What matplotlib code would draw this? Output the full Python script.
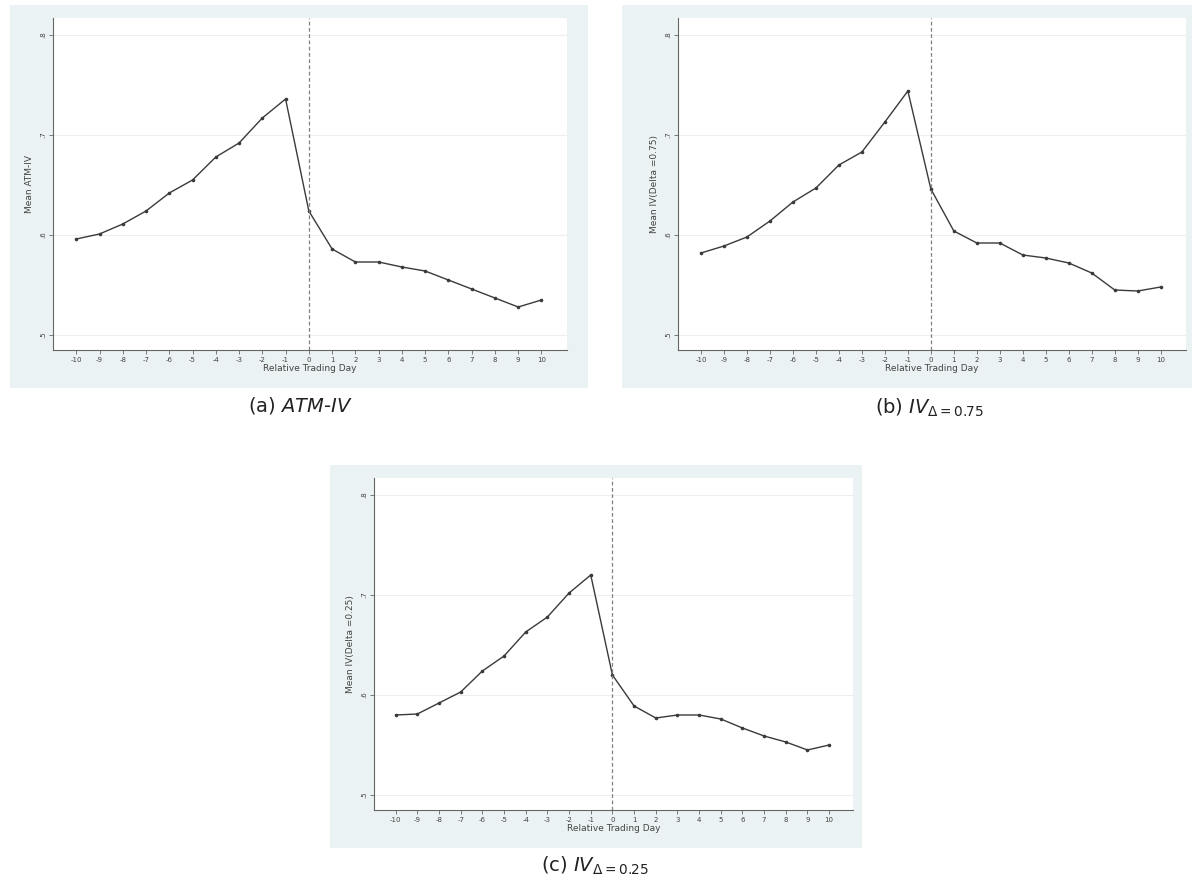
import matplotlib.pyplot as plt
from matplotlib.patches import Rectangle

# Données
days = list(range(-10, 11))
atm_iv = [0.596, 0.601, 0.611, 0.624, 0.642, 0.655, 0.678, 0.692, 0.717, 0.736,
          0.624, 0.586, 0.573, 0.573, 0.568, 0.564, 0.555, 0.546, 0.537, 0.528, 0.535]
iv_d075 = [0.582, 0.589, 0.598, 0.614, 0.633, 0.647, 0.670, 0.683, 0.713, 0.744,
           0.646, 0.604, 0.592, 0.592, 0.580, 0.577, 0.572, 0.562, 0.545, 0.544, 0.548]
iv_d025 = [0.580, 0.581, 0.592, 0.603, 0.624, 0.639, 0.663, 0.678, 0.702, 0.720,
           0.620, 0.589, 0.577, 0.580, 0.580, 0.576, 0.567, 0.559, 0.553, 0.545, 0.550]
y_ticks = [0.5, 0.6, 0.7, 0.8]
y_ticklabels = ['.5', '.6', '.7', '.8']

W, H = 1197, 888
bg = '#eaf2f3'

fig = plt.figure(figsize=(W / 100, H / 100), dpi=100)


def px_box(x0, y0, x1, y1):
    # convertit des pixels (origine en haut à gauche) en fractions de figure
    return [x0 / W, 1 - y1 / H, (x1 - x0) / W, (y1 - y0) / H]


def panel(bg_box, ax_box, data, ylabel, caption, cap_xy):
    x0, y0, x1, y1 = bg_box
    fig.patches.append(Rectangle((x0 / W, 1 - y1 / H), (x1 - x0) / W, (y1 - y0) / H,
                                 transform=fig.transFigure, facecolor=bg,
                                 edgecolor='none', zorder=-10))
    ax = fig.add_axes(px_box(*ax_box))
    ax.set_zorder(1)
    ax.set_facecolor('white')
    ax.plot(days, data, color='#3a3a3a', lw=1.0, marker='o', ms=2.6,
            markerfacecolor='#3a3a3a', markeredgewidth=0)
    ax.axvline(0, color='#808080', lw=0.9, ls=(0, (3, 2)))
    ax.set_xlim(-11, 11.1)
    ax.set_ylim(0.485, 0.817)
    ax.set_xticks(days)
    ax.set_xticklabels([str(d) for d in days], fontsize=5, color='#444444')
    ax.set_yticks(y_ticks)
    ax.set_yticklabels(y_ticklabels, fontsize=5, color='#444444', rotation=90, va='center')
    ax.tick_params(length=3, width=0.6, color='#666666', pad=2)
    ax.grid(axis='y', color='#eeeeee', lw=0.8)
    ax.set_axisbelow(True)
    for s in ['top', 'right']:
        ax.spines[s].set_visible(False)
    for s in ['left', 'bottom']:
        ax.spines[s].set_color('#666666')
        ax.spines[s].set_linewidth(0.8)
    ax.set_xlabel('Relative Trading Day', fontsize=6.5, color='#444444', labelpad=1)
    ax.set_ylabel(ylabel, fontsize=6.5, color='#444444', labelpad=4)
    fig.text(cap_xy[0] / W, 1 - cap_xy[1] / H, caption, fontsize=14,
             ha='center', va='center', color='#222222')
    return ax


panel((10, 5, 588, 388), (53, 18, 567, 350), atm_iv, 'Mean ATM-IV',
      r'(a) $\mathit{ATM}$-$\mathit{IV}$', (300, 405))
panel((622, 5, 1192, 388), (678, 18, 1186, 350), iv_d075, 'Mean IV(Delta =0.75)',
      r'(b) $\mathit{IV}_{\Delta\mathrm{=0.75}}$', (930, 408))
panel((330, 465, 862, 848), (374, 478, 853, 810), iv_d025, 'Mean IV(Delta =0.25)',
      r'(c) $\mathit{IV}_{\Delta\mathrm{=0.25}}$', (595, 866))

plt.savefig('out.png', dpi=100)
